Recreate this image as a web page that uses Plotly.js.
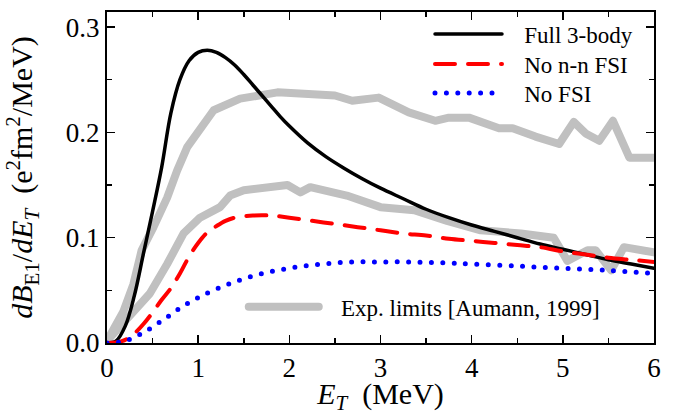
<!DOCTYPE html>
<html>
<head>
<meta charset="utf-8">
<script src="https://cdn.plot.ly/plotly-3.0.1.min.js"></script>
<style>html,body{margin:0;padding:0;background:#fff;}#chart{width:675px;height:415px;}</style>
</head>
<body>
<div id="chart"></div>
<script>
// Full 3-body
const fullX = [0,0.1,0.2,0.3,0.4,0.5,0.6,0.7,0.8,0.9,1.0,1.1,1.2,1.3,1.4,1.5,1.6,1.7,1.8,1.9,2.0,2.2,2.4,2.6,2.8,3.0,3.25,3.5,3.75,4.0,4.25,4.5,4.75,5.0,5.25,5.5,5.75,6.0];
const fullY = [0,0.002,0.016,0.045,0.085,0.125,0.167,0.218,0.250,0.268,0.276,0.278,0.276,0.271,0.264,0.255,0.245,0.235,0.225,0.215,0.206,0.190,0.177,0.166,0.156,0.147,0.137,0.127,0.119,0.112,0.106,0.100,0.094,0.089,0.084,0.079,0.075,0.071];
// No n-n FSI
const nnX = [0,0.1,0.2,0.3,0.4,0.5,0.6,0.7,0.8,0.9,1.0,1.1,1.2,1.3,1.4,1.6,1.8,2.0,2.25,2.5,2.75,3.0,3.25,3.5,3.75,4.0,4.25,4.5,4.75,5.0,5.25,5.5,5.75,6.0];
const nnY = [0,0.0005,0.003,0.009,0.018,0.029,0.041,0.052,0.066,0.082,0.095,0.105,0.111,0.116,0.119,0.121,0.121,0.119,0.116,0.113,0.110,0.107,0.104,0.102,0.099,0.097,0.095,0.093,0.091,0.087,0.084,0.081,0.079,0.077];
// No FSI
const noX = [0,0.2,0.4,0.6,0.8,1.0,1.25,1.5,1.75,2.0,2.25,2.5,2.75,3.0,3.25,3.5,3.75,4.0,4.5,5.0,5.5,6.0];
const noY = [0,0.002,0.010,0.021,0.033,0.043,0.053,0.061,0.067,0.071,0.074,0.076,0.077,0.077,0.077,0.0765,0.076,0.075,0.073,0.071,0.069,0.066];
// Experimental limits [Aumann, 1999]
const upX = [0,0.18,0.29,0.38,0.51,0.66,0.77,0.88,1.17,1.46,1.87,2.12,2.41,2.5,2.69,2.98,3.31,3.6,3.75,3.97,4.3,4.45,4.7,4.96,5.12,5.25,5.4,5.55,5.73,6.0];
const upY = [0.002,0.030,0.056,0.088,0.110,0.138,0.164,0.186,0.221,0.232,0.238,0.237,0.237,0.235,0.230,0.233,0.219,0.211,0.214,0.214,0.204,0.204,0.196,0.189,0.210,0.199,0.192,0.211,0.176,0.176];
const loX = [0,0.29,0.47,0.66,0.84,1.02,1.17,1.24,1.35,1.5,1.98,2.12,2.23,2.48,2.63,3.0,3.37,3.73,4.1,4.54,4.9,5.05,5.27,5.36,5.53,5.67,6.0];
const loY = [0.002,0.030,0.047,0.075,0.104,0.119,0.126,0.129,0.140,0.145,0.150,0.143,0.148,0.142,0.140,0.129,0.126,0.116,0.107,0.104,0.100,0.078,0.088,0.088,0.069,0.091,0.086];

const names = ['Full 3-body','No n-n FSI','No FSI','Exp. limits [Aumann, 1999]'];
const xTicks = [0,1,2,3,4,5,6];
const yTicks = [0.0,0.1,0.2,0.3];
const yTickText = ['0.0','0.1','0.2','0.3'];

const pad = '\u00a0\u00a0\u00a0';
const gray = '#c0c0c0';
const traces = [
  {x: upX, y: upY, mode:'lines', name: pad + names[3], legend:'legend2', line:{color:gray, width:8}},
  {x: loX, y: loY, mode:'lines', name: names[3], showlegend:false, line:{color:gray, width:8}},
  {x: fullX, y: fullY, mode:'lines', name: pad + names[0], legend:'legend', line:{color:'#000', width:3.5, shape:'spline'}},
  {x: nnX, y: nnY, mode:'lines', name: pad + names[1], legend:'legend3', line:{color:'#ff0000', width:4, dash:'20px,13px', shape:'spline'}},
  {x: noX, y: noY, mode:'lines', name: pad + names[2], legend:'legend4', line:{color:'#0000ff', width:5, dash:'0px,11.4px', shape:'spline'}}
];

const fam = 'Liberation Serif, serif';
const axisCommon = {
  showgrid:false, zeroline:false, showline:true, linecolor:'#000', linewidth:2,
  mirror:'ticks', ticks:'inside', ticklen:8, tickwidth:1.5, tickcolor:'#000',
  tickfont:{family:fam, size:27, color:'#000'}
};
function leg(y){
  return {x:0.5905, y:y, xanchor:'left', yanchor:'middle', bgcolor:'rgba(0,0,0,0)', borderwidth:0,
    font:{family:fam, size:23, color:'#000'}, itemwidth:67};
}
const layout = {
  width:675, height:415,
  margin:{l:107, r:21, t:12, b:72},
  paper_bgcolor:'#fff', plot_bgcolor:'#fff',
  font: {family:fam, color:'#000'},
  showlegend:true,
  xaxis: Object.assign({}, axisCommon, {
    range:[0,6], tickvals:xTicks, ticktext:xTicks.map(String),
    minor:{dtick:0.5, ticks:'inside', ticklen:5, tickwidth:1.5, tickcolor:'#000'},
    title:{text:'<i>E<sub>T</sub></i>\u00a0\u00a0(MeV)', font:{family:fam, size:30, color:'#000'}, standoff:2}
  }),
  yaxis: Object.assign({}, axisCommon, {
    range:[0,0.3143], tickvals:yTicks, ticktext:yTickText,
    minor:{dtick:0.05, ticks:'inside', ticklen:5, tickwidth:1.5, tickcolor:'#000'},
    title:{text:'<i>dB</i><sub>E1</sub>/<i>dE<sub>T</sub></i>\u00a0\u00a0(e<sup>2</sup>fm<sup>2</sup>/MeV)', font:{family:fam, size:30, color:'#000'}, standoff:24}
  }),
  legend: leg(0.9335),
  legend3: leg(0.8429),
  legend4: leg(0.7553),
  legend2:{x:0.25, y:0.109, xanchor:'left', yanchor:'middle', bgcolor:'rgba(0,0,0,0)', borderwidth:0,
    font:{family:fam, size:23, color:'#000'}, itemwidth:70}
};
Plotly.newPlot('chart', traces, layout, {staticPlot:true, displayModeBar:false}).then(function(){
  document.querySelectorAll('path.js-line').forEach(function(p){
    p.style.strokeLinecap = 'round';
    p.style.strokeLinejoin = 'round';
  });
});
</script>
</body>
</html>
